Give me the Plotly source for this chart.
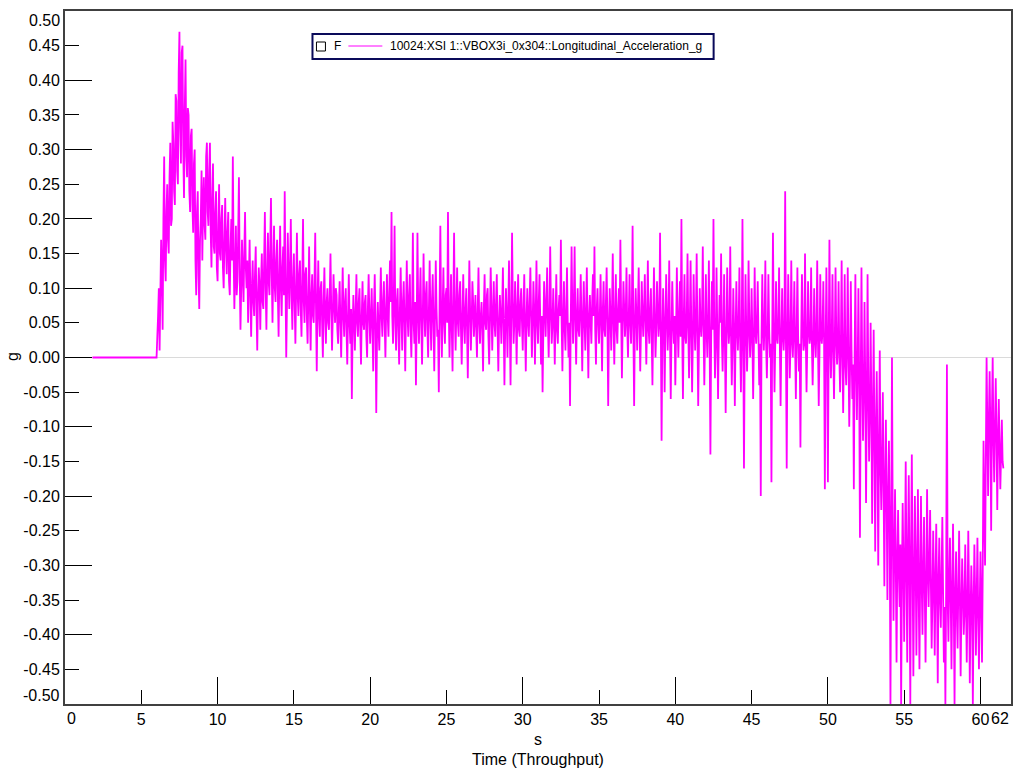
import numpy as np
import plotly.graph_objects as go

# Longitudinal acceleration (g) from the VBOX3i channel, sampled every 0.05 s from 6.0 s.
IDLE_START = 1.8          # logging starts, vehicle stationary (0 g) until 6.0 s
SAMPLE_START = 6.0
SAMPLE_STEP = 0.05

# 6.0 - 9.95 s : launch (one row per second)
launch_g = [
    0.00, 0.03, 0.06, 0.10, 0.01, 0.09, 0.17, 0.12, 0.04, 0.20, 0.29, 0.14, 0.11, 0.21, 0.25, 0.17, 0.15, 0.26, 0.31, 0.19,
    0.20, 0.34, 0.31, 0.24, 0.22, 0.38, 0.37, 0.27, 0.25, 0.41, 0.47, 0.33, 0.28, 0.44, 0.45, 0.30, 0.23, 0.36, 0.43, 0.29,
    0.26, 0.36, 0.35, 0.24, 0.21, 0.32, 0.33, 0.22, 0.18, 0.28, 0.30, 0.14, 0.09, 0.21, 0.24, 0.12, 0.07, 0.17, 0.20, 0.27,
    0.14, 0.22, 0.26, 0.19, 0.17, 0.29, 0.31, 0.21, 0.19, 0.27, 0.31, 0.18, 0.13, 0.23, 0.28, 0.16, 0.15, 0.21, 0.24, 0.13,
]

# 10.0 - 19.95 s : acceleration decaying
decay_g = [
    0.11, 0.19, 0.25, 0.15, 0.14, 0.20, 0.22, 0.13, 0.10, 0.17, 0.23, 0.16, 0.12, 0.18, 0.21, 0.11, 0.09, 0.16, 0.20, 0.14,
    0.29, 0.15, 0.07, 0.13, 0.19, 0.09, 0.11, 0.18, 0.26, 0.12, 0.04, 0.10, 0.17, 0.12, 0.08, 0.15, 0.21, 0.13, 0.10, 0.14,
    0.05, 0.11, 0.17, 0.09, 0.03, 0.10, 0.14, 0.08, 0.06, 0.12, 0.16, 0.07, 0.01, 0.09, 0.13, 0.10, 0.04, 0.11, 0.15, 0.08,
    0.07, 0.14, 0.21, 0.10, 0.04, 0.12, 0.18, 0.11, 0.09, 0.16, 0.23, 0.12, 0.05, 0.13, 0.19, 0.10, 0.08, 0.14, 0.17, 0.09,
    0.03, 0.12, 0.19, 0.10, 0.06, 0.13, 0.16, 0.09, 0.24, 0.11, 0.00, 0.08, 0.18, 0.12, 0.07, 0.13, 0.20, 0.09, 0.04, 0.11,
    0.15, 0.08, 0.02, 0.10, 0.18, 0.09, 0.06, 0.12, 0.14, 0.07, 0.03, 0.11, 0.20, 0.08, 0.05, 0.12, 0.13, 0.06, 0.02, 0.09,
    0.16, 0.07, 0.01, 0.09, 0.12, 0.06, 0.05, 0.11, 0.18, 0.07, -0.02, 0.08, 0.14, 0.06, 0.03, 0.10, 0.11, 0.05, 0.00, 0.08,
    0.13, 0.06, 0.02, 0.08, 0.10, 0.05, 0.04, 0.09, 0.15, 0.07, 0.01, 0.06, 0.12, 0.08, 0.05, 0.10, 0.09, 0.04, 0.02, 0.07,
    0.11, 0.05, 0.00, 0.07, 0.13, 0.06, 0.03, 0.08, 0.10, 0.04, -0.01, 0.06, 0.12, 0.05, 0.02, 0.07, -0.06, 0.04, 0.09, 0.05,
    0.01, 0.07, 0.12, 0.05, 0.03, 0.08, 0.10, 0.04, -0.01, 0.06, 0.11, 0.05, 0.04, 0.08, 0.09, 0.03, 0.00, 0.07, 0.12, 0.06,
]

# 20.0 - 50.95 s : steady run
cruise_g = [
    0.02, 0.06, 0.10, 0.04, -0.02, 0.07, 0.12, 0.05, -0.08, 0.03, 0.08, 0.04, 0.01, 0.07, 0.13, 0.06, 0.03, 0.08, 0.11, 0.05,
    0.00, 0.07, 0.12, 0.06, 0.03, 0.09, 0.14, 0.08, 0.21, 0.06, 0.02, 0.09, 0.19, 0.05, 0.01, 0.08, 0.10, 0.04, -0.01, 0.07,
    0.13, 0.06, 0.01, 0.08, 0.11, 0.05, -0.02, 0.07, 0.14, 0.06, 0.03, 0.09, 0.12, 0.04, 0.00, 0.07, 0.18, 0.05, 0.02, 0.08,
    -0.04, 0.05, 0.18, 0.07, 0.02, 0.08, 0.13, 0.05, -0.01, 0.06, 0.15, 0.07, 0.03, 0.09, 0.11, 0.04, 0.00, 0.07, 0.14, 0.06,
    0.01, 0.08, 0.12, 0.05, -0.02, 0.06, 0.14, 0.07, 0.03, 0.04, -0.05, 0.08, 0.19, 0.06, 0.00, 0.07, 0.13, 0.05, 0.02, 0.09,
    0.10, 0.05, 0.21, 0.07, 0.00, 0.06, 0.12, 0.04, -0.02, 0.08, 0.18, 0.06, 0.01, 0.07, 0.13, 0.05, 0.03, 0.09, 0.11, 0.04,
    -0.01, 0.06, 0.12, 0.05, 0.02, 0.07, 0.10, 0.04, -0.03, 0.06, 0.14, 0.07, 0.01, 0.05, 0.11, 0.08, 0.03, 0.06, 0.09, 0.04,
    0.00, 0.07, 0.13, 0.05, 0.02, 0.06, 0.08, 0.04, -0.02, 0.07, 0.12, 0.05, 0.04, 0.09, 0.10, 0.03, -0.01, 0.06, 0.13, 0.07,
    0.01, 0.06, 0.11, 0.05, 0.03, 0.08, 0.12, 0.04, -0.02, 0.05, 0.09, 0.06, 0.02, 0.07, 0.13, 0.05, -0.04, 0.04, 0.10, 0.06,
    0.00, 0.07, 0.14, 0.05, -0.04, 0.06, 0.18, 0.08, 0.02, 0.05, 0.11, 0.06, -0.01, 0.07, 0.12, 0.04, 0.03, 0.08, 0.10, 0.05,
    0.01, 0.07, 0.12, 0.04, -0.02, 0.06, 0.10, 0.05, 0.03, 0.08, 0.13, 0.06, 0.00, 0.05, 0.11, 0.07, -0.01, 0.06, 0.14, 0.05,
    0.02, 0.08, 0.12, 0.05, -0.01, 0.06, -0.05, 0.04, 0.11, 0.07, 0.03, 0.08, 0.13, 0.05, 0.00, 0.06, 0.16, 0.07, 0.02, 0.05,
    0.10, 0.05, -0.01, 0.06, 0.12, 0.04, 0.02, 0.07, 0.09, 0.06, 0.17, 0.05, -0.02, 0.06, 0.11, 0.04, 0.01, 0.07, 0.13, 0.05,
    0.00, 0.05, -0.07, 0.06, 0.16, 0.07, 0.02, 0.08, 0.16, 0.05, -0.01, 0.06, 0.10, 0.04, 0.03, 0.07, 0.12, 0.05, -0.02, 0.06,
    0.11, 0.05, 0.01, 0.07, 0.13, 0.04, -0.03, 0.06, 0.09, 0.05, 0.02, 0.08, 0.12, 0.06, 0.16, 0.04, -0.01, 0.07, 0.10, 0.05,
    0.02, 0.06, 0.12, 0.05, -0.02, 0.07, 0.11, 0.04, 0.03, 0.08, 0.13, 0.05, -0.07, 0.04, 0.10, 0.06, 0.01, 0.07, 0.15, 0.05,
    -0.01, 0.06, 0.12, 0.04, 0.02, 0.07, 0.10, 0.05, 0.17, 0.06, -0.03, 0.05, 0.11, 0.07, 0.03, 0.06, 0.13, 0.04, 0.00, 0.06,
    0.12, 0.05, 0.02, 0.07, 0.19, 0.04, -0.07, 0.05, 0.10, 0.06, 0.01, 0.07, 0.13, 0.05, -0.02, 0.04, 0.11, 0.06, 0.03, 0.07,
    0.12, 0.05, -0.01, 0.06, 0.14, 0.04, 0.02, 0.07, 0.10, 0.03, -0.04, 0.05, 0.13, 0.06, 0.00, 0.04, 0.11, 0.07, 0.03, 0.05,
    0.18, 0.04, -0.12, 0.03, 0.10, 0.05, -0.05, 0.04, 0.12, 0.06, 0.01, 0.05, 0.14, 0.03, -0.06, 0.04, 0.11, 0.05, 0.02, 0.06,
    -0.04, 0.04, 0.13, 0.05, 0.00, 0.06, 0.11, 0.03, 0.20, 0.04, -0.06, 0.05, 0.12, 0.03, 0.02, 0.06, 0.15, 0.04, -0.03, 0.05,
    0.14, 0.04, -0.05, 0.03, 0.12, 0.05, 0.01, 0.06, 0.15, 0.03, -0.07, 0.02, 0.10, 0.05, 0.03, 0.06, 0.16, 0.04, -0.04, 0.03,
    0.12, 0.04, 0.00, 0.05, 0.14, 0.02, -0.14, 0.03, 0.11, 0.04, 0.20, 0.05, -0.03, 0.02, 0.13, 0.04, -0.06, 0.03, 0.09, 0.05,
    0.15, 0.03, -0.02, 0.04, 0.12, 0.02, -0.08, 0.03, 0.13, 0.05, 0.02, 0.04, 0.16, 0.03, -0.04, 0.02, 0.10, 0.04, -0.07, 0.03,
    0.11, 0.04, 0.01, 0.05, 0.13, 0.02, -0.05, 0.03, 0.20, 0.04, -0.16, 0.02, 0.12, 0.04, -0.02, 0.03, 0.14, 0.05, 0.00, 0.03,
    0.10, 0.03, -0.06, 0.02, 0.13, 0.04, 0.02, 0.05, 0.11, 0.03, -0.04, 0.02, -0.20, 0.03, 0.12, 0.04, 0.01, 0.05, 0.14, 0.02,
    -0.03, 0.03, 0.12, 0.04, 0.00, 0.02, -0.18, 0.03, 0.18, 0.04, -0.05, 0.02, 0.11, 0.03, 0.02, 0.05, 0.13, 0.02, -0.07, 0.03,
    0.10, 0.03, 0.01, 0.04, 0.24, 0.02, -0.16, 0.03, 0.12, 0.04, -0.03, 0.02, 0.14, 0.03, 0.00, 0.04, 0.11, 0.02, -0.06, 0.03,
    0.13, 0.03, -0.02, 0.02, -0.13, 0.03, 0.12, 0.04, 0.01, 0.02, 0.15, 0.03, -0.05, 0.02, 0.11, 0.04, 0.02, 0.03, 0.13, 0.02,
    -0.04, 0.02, 0.10, 0.03, 0.00, 0.04, 0.14, 0.02, -0.07, 0.01, 0.12, 0.03, 0.02, 0.04, 0.11, 0.02, -0.19, 0.01, 0.13, 0.03,
    -0.18, 0.01, 0.17, 0.02, -0.03, 0.03, 0.12, 0.01, -0.06, 0.02, 0.13, 0.03, -0.01, 0.02, 0.11, 0.00, -0.05, 0.02, 0.14, 0.01,
]

# 51.0 - 61.5 s : braking and release
braking_g = [
    -0.08, 0.01, 0.12, -0.01, -0.04, 0.02, 0.13, 0.00, -0.10, -0.02, 0.11, 0.01, -0.06, -0.01, -0.19, 0.00, 0.12, -0.02, -0.09, -0.01,
    0.10, -0.03, -0.26, -0.04, 0.13, -0.02, -0.12, -0.05, 0.08, -0.04, -0.21, -0.06, 0.12, -0.05, -0.15, -0.08, 0.05, -0.07, -0.24, -0.09,
    0.04, -0.12, -0.28, -0.10, -0.02, -0.14, -0.30, -0.13, 0.01, -0.16, -0.22, -0.15, -0.05, -0.19, -0.33, -0.18, -0.09, -0.21, -0.35, -0.20,
    -0.12, -0.24, -0.50, -0.26, 0.00, -0.25, -0.38, -0.28, -0.19, -0.30, -0.44, -0.29, -0.22, -0.31, -0.36, -0.27, -0.50, -0.32, -0.21, -0.30,
    -0.41, -0.29, -0.15, -0.31, -0.44, -0.27, -0.17, -0.32, -0.50, -0.28, -0.14, -0.30, -0.46, -0.33, -0.20, -0.29, -0.43, -0.31, -0.19, -0.34,
    -0.45, -0.31, -0.20, -0.33, -0.40, -0.30, -0.23, -0.34, -0.44, -0.32, -0.19, -0.31, -0.36, -0.29, -0.22, -0.33, -0.42, -0.35, -0.25, -0.32,
    -0.43, -0.33, -0.24, -0.34, -0.47, -0.32, -0.26, -0.35, -0.39, -0.31, -0.23, -0.34, -0.44, -0.36, -0.50, -0.33, -0.01, -0.35, -0.41, -0.32,
    -0.26, -0.35, -0.45, -0.33, -0.24, -0.36, -0.50, -0.34, -0.28, -0.37, -0.42, -0.33, -0.25, -0.35, -0.46, -0.36, -0.29, -0.34, -0.40, -0.37,
    -0.27, -0.35, -0.44, -0.36, -0.25, -0.34, -0.47, -0.37, -0.30, -0.35, -0.50, -0.36, -0.27, -0.34, -0.43, -0.35, -0.26, -0.37, -0.45, -0.36,
    -0.28, -0.36, -0.44, -0.30, -0.12, -0.22, -0.30, -0.15, 0.00, -0.10, -0.20, -0.09, -0.02, -0.11, -0.25, -0.08, 0.00, -0.12, -0.18, -0.10,
    -0.03, -0.11, -0.22, -0.12, -0.06, -0.13, -0.19, -0.14, -0.09, -0.15, -0.16,
]

x_tick_vals = [5, 10, 15, 20, 25, 30, 35, 40, 45, 50, 55, 60]
x_major_vals = [10, 20, 30, 40, 50, 60]
y_tick_vals = [-0.45, -0.40, -0.35, -0.30, -0.25, -0.20, -0.15, -0.10, -0.05, 0.00,
               0.05, 0.10, 0.15, 0.20, 0.25, 0.30, 0.35, 0.40, 0.45]
y_major_vals = [-0.40, -0.30, -0.20, -0.10, 0.00, 0.10, 0.20, 0.30, 0.40]
X_RANGE = [0, 62]
Y_RANGE = [-0.5, 0.5]

channel_name = "10024:XSI 1::VBOX3i_0x304::Longitudinal_Acceleration_g"

active_g = launch_g + decay_g + cruise_g + braking_g
active_t = np.round(SAMPLE_START + SAMPLE_STEP * np.arange(len(active_g)), 3)
time_s = [IDLE_START] + list(active_t)
accel_g = [0.0] + active_g

W, H = 1016, 772
ML, MR, MT, MB = 65, 3, 11, 68
PW, PH = W - ML - MR, H - MT - MB


def px(xp):
    return (xp - ML) / PW


def py(yp):
    return (H - MB - yp) / PH


FONT = "Arial, 'Liberation Sans', sans-serif"

fig = go.Figure()
fig.add_trace(go.Scatter(
    x=time_s, y=accel_g, mode="lines",
    line=dict(color="#FF00FF", width=1.8, simplify=False),
    showlegend=False, hoverinfo="skip",
))
# carrier for the long-tick overlay axes
fig.add_trace(go.Scatter(x=[None], y=[None], xaxis="x2", yaxis="y2",
                         showlegend=False, hoverinfo="skip"))

axis_common = dict(showgrid=False, ticks="inside", tickcolor="#000", tickwidth=1)

fig.update_layout(
    width=W, height=H,
    margin=dict(l=ML, r=MR, t=MT, b=MB),
    paper_bgcolor="white", plot_bgcolor="white",
    font=dict(family=FONT, size=16, color="#000"),
    xaxis=dict(
        range=X_RANGE, tickmode="array", tickvals=x_tick_vals,
        ticktext=[str(v) for v in x_tick_vals], ticklen=14,
        showline=True, linecolor="#404040", linewidth=2, mirror=True,
        zeroline=False, tickfont=dict(size=16), **axis_common,
    ),
    yaxis=dict(
        range=Y_RANGE, tickmode="array", tickvals=y_tick_vals,
        ticktext=[f"{v:.2f}" for v in y_tick_vals], ticklen=14,
        showline=True, linecolor="#404040", linewidth=2, mirror=True,
        zeroline=True, zerolinecolor="#dadada", zerolinewidth=1,
        tickfont=dict(size=16), **axis_common,
    ),
    xaxis2=dict(
        range=X_RANGE, overlaying="x", anchor="y", side="bottom",
        tickmode="array", tickvals=x_major_vals, ticklen=27,
        showticklabels=False, showline=False, zeroline=False, **axis_common,
    ),
    yaxis2=dict(
        range=Y_RANGE, overlaying="y", anchor="x", side="left",
        tickmode="array", tickvals=y_major_vals, ticklen=27,
        showticklabels=False, showline=False, zeroline=False, **axis_common,
    ),
)

annotations = [
    # end labels of the axes, kept inside the frame
    dict(x=0, y=0, xref="x", yref="paper", text="0", showarrow=False,
         xanchor="left", yanchor="top", yshift=-4, font=dict(size=16)),
    dict(x=62, y=0, xref="x", yref="paper", text="62", showarrow=False,
         xanchor="right", yanchor="top", yshift=-4, font=dict(size=16)),
    dict(x=0, y=0.5, xref="paper", yref="y", text="0.50", showarrow=False,
         xanchor="right", yanchor="middle", xshift=-3, yshift=-9, font=dict(size=16)),
    dict(x=0, y=-0.5, xref="paper", yref="y", text="-0.50", showarrow=False,
         xanchor="right", yanchor="middle", xshift=-3, yshift=9, font=dict(size=16)),
    # axis titles
    dict(x=0.5, y=py(739), xref="paper", yref="paper", text="s", showarrow=False,
         xanchor="center", yanchor="middle", font=dict(size=16)),
    dict(x=0.5, y=py(759), xref="paper", yref="paper", text="Time (Throughput)",
         showarrow=False, xanchor="center", yanchor="middle", font=dict(size=16)),
    dict(x=px(12), y=py(357), xref="paper", yref="paper", text="g", showarrow=False,
         textangle=-90, xanchor="center", yanchor="middle", font=dict(size=16)),
    # legend entries
    dict(x=px(333), y=py(46), xref="paper", yref="paper", text="F", showarrow=False,
         xanchor="left", yanchor="middle", font=dict(size=12)),
    dict(x=px(389), y=py(46), xref="paper", yref="paper", text=channel_name,
         showarrow=False, xanchor="left", yanchor="middle", font=dict(size=12)),
]

shapes = [
    # legend frame
    dict(type="rect", xref="paper", yref="paper", x0=px(313), x1=px(715),
         y0=py(59), y1=py(34), line=dict(color="#0a0a5a", width=2), fillcolor="white",
         layer="above"),
    # checkbox
    dict(type="rect", xref="paper", yref="paper", x0=px(317), x1=px(326),
         y0=py(51), y1=py(42), line=dict(color="#000", width=1), fillcolor="white",
         layer="above"),
    # legend line sample
    dict(type="line", xref="paper", yref="paper", x0=px(349), x1=px(383),
         y0=py(46), y1=py(46), line=dict(color="#FF00FF", width=1), layer="above"),
]

fig.update_layout(annotations=annotations, shapes=shapes)
fig.write_html("out.html")
